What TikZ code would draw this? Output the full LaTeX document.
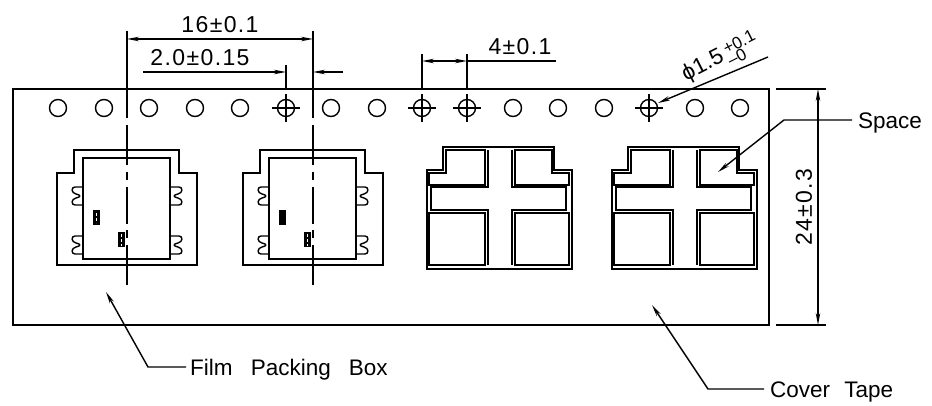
\documentclass[tikz,border=0pt]{standalone}
\usepackage{fontspec}
\setmainfont{Liberation Sans}[WordSpace=2.9]
\usetikzlibrary{arrows.meta}
\def\r{8.5pt}
\def\v{circle (\r)}
\tikzset{
	thin line/.style={line width=1.4pt},
	wall/.style={line width=1.5pt},
	dim/.style={line width=1.4pt, {Stealth[length=12pt,width=4.5pt]}-{Stealth[length=12pt,width=4.5pt]}},
	lead/.style={line width=1.4pt, -{Stealth[length=12pt,width=4.5pt]}},
	lbl/.style={inner sep=0pt, font=\fontsize{22.5}{24}\selectfont},
	num/.style={inner sep=0pt, font=\fontsize{23}{24}\selectfont\addfontfeature{LetterSpace=6}},
	tol/.style={inner sep=0pt, rotate=27, font=\fontsize{17}{18}\selectfont}
}

\begin{document}
\begin{tikzpicture}[x=1pt, y=-1pt]
\useasboundingbox (0,0) rectangle (932,406);
\coordinate (A) at (127,39);
\coordinate (B) at (313,39);
\coordinate (C) at (143,72);
\coordinate (D) at (286,72);
\coordinate (E) at (343,72);
\coordinate (F) at (313,72);
\coordinate (G) at (422,61);
\coordinate (H) at (467,61);
\coordinate (I) at (556,61);
\coordinate (J) at (818,89);
\coordinate (K) at (818,325);

% tape
\draw[wall] (13,89) rectangle (769,325);
\foreach \x in {58,104,149,195,240,286,331,377,422,467,513,558,604,649,695,740}{
	\draw[thin line] (\x,108) \v;
}
\foreach \x in {286,422,467,649}{
	\draw[thin line] (\x-14,108) -- (\x+14,108) (\x,94) -- (\x,122);
}

% film packing boxes
\foreach \dx in {0,186}{
\begin{scope}[xshift=\dx pt]
	\draw[wall] (57,265) -- (57,173) -- (74,173) -- (74,150) -- (179,150) -- (179,173) -- (197,173) -- (197,265) -- cycle;
	\draw[wall] (83,158) rectangle (170,259);
	\foreach \s in {1,-1}{
		\foreach \y in {187,236}{
			\draw[thin line,xshift=127pt,xscale=\s] (-44,\y) -- (-52,\y) .. controls (-56,\y) and (-56,\y+6) .. (-51,\y+7) .. controls (-46,\y+8) and (-46,\y+10) .. (-51,\y+11) .. controls (-56,\y+12) and (-56,\y+18) .. (-52,\y+18) -- (-44,\y+18);
		}
	}
	\fill (93,210) rectangle (99.5,225);
	\fill (118,232) rectangle (125,247);
	\draw[white, line width=.6pt, dash pattern=on 3pt off 2pt] (121.5,234) -- (121.5,246);
	% centre line
	\draw[line width=1.5pt] (127,31) -- (127,118) (127,125) -- (127,165) (127,172) -- (127,180) (127,187) -- (127,224) (127,230) -- (127,238) (127,245) -- (127,285);
\end{scope}
}
\draw[white, line width=.6pt, dash pattern=on 3pt off 2pt] (96.2,213) -- (96.2,223);

% empty pockets
\foreach \dx in {0,185}{
\begin{scope}[xshift=\dx pt]
	\draw[wall] (427,269) -- (427,170) -- (443,170) -- (443,147) -- (554,147) -- (554,170) -- (572,170) -- (572,269) -- cycle;
	\draw[wall] (446,150) -- (485,150) -- (485,185) -- (429,185) -- (429,173) -- (446,173) -- cycle;
	\draw[wall] (515,150) -- (552,150) -- (552,173) -- (569,173) -- (569,185) -- (515,185) -- cycle;
	\draw[wall] (429,213) rectangle (485,265);
	\draw[wall] (515,213) rectangle (569,265);
	\draw[wall] (488,265) -- (488,210) -- (431,210) -- (431,187) -- (488,187) -- (488,150) (512,150) -- (512,187) -- (566,187) -- (566,210) -- (512,210) -- (512,265);
\end{scope}
}

% dimensions
\draw[dim] (A) -- (B);
\node[num] (n16) at (220,25) {16±0.1};
\coordinate (D1) at (286,65);
\coordinate (D2) at (286,89);
\draw[thin line] (D1) -- (D2);
\draw[lead] (C) -- (D);
\draw[lead] (E) -- (F);
\node[num] (n2) at (200,58) {2.0±0.15};
\foreach \x in {422,467}{
	\draw[thin line] (\x,54) -- (\x,89);
}
\draw[dim] (G) -- (H);
\draw[thin line] (H) -- (I);
\node[num] (n4) at (520,47) {4±0.1};
\coordinate (P1) at (768,57);
\coordinate (P2) at (658,103);
\draw[lead] (P1) -- (P2);
\node[tol, font=\fontsize{22.5}{24}\selectfont] (nphi) at (703,66) {ϕ1.5};
\node[tol] (nup) at (739,42) {+0.1};
\node[tol] (ndn) at (737,57) {--0};
\draw[thin line] (776,89) -- (826,89) (776,325) -- (826,325);
\draw[dim] (J) -- (K);
\node[num, rotate=90] (n24) at (804,207) {24±0.3};

% callouts
\node[lbl, anchor=west] (space) at (858,123) {Space};
\coordinate (S1) at (784,120);
\coordinate (S2) at (718,172);
\draw[lead] (space.west) ++(-6,-3) -- (S1) -- (S2);
\node[lbl, anchor=west] (cover) at (770,392) {Cover\hspace{-4pt} Tape};
\coordinate (C1) at (708,389);
\coordinate (C2) at (652,305);
\draw[lead] (cover.west) ++(-6,-3) -- (C1) -- (C2);
\node[lbl, anchor=west] (film) at (190,370) {Film Packing Box};
\coordinate (F1) at (148,367);
\coordinate (F2) at (106,292);
\draw[lead] (film.west) ++(-4,-3) -- (F1) -- (F2);
\end{tikzpicture}
\end{document}
